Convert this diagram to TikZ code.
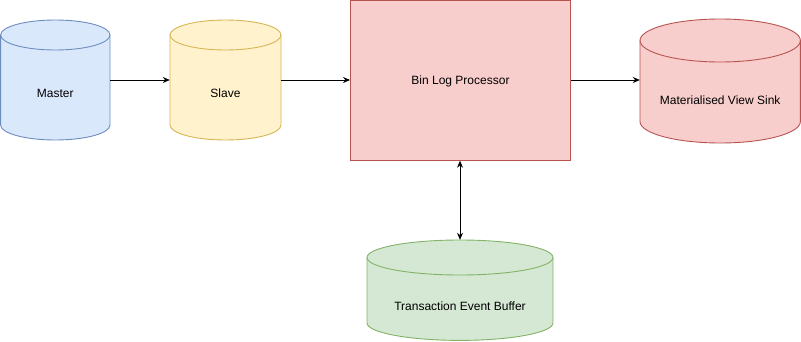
\documentclass[tikz,border=0pt]{standalone}
\usepackage{fontspec}
\setmainfont{Liberation Sans}
\usetikzlibrary{arrows.meta}
\definecolor{bluefill}{HTML}{DAE8FC}\definecolor{bluedraw}{HTML}{6C8EBF}
\definecolor{yelfill}{HTML}{FFF2CC}\definecolor{yeldraw}{HTML}{D6B656}
\definecolor{redfill}{HTML}{F8CECC}\definecolor{reddraw}{HTML}{B85450}
\definecolor{grnfill}{HTML}{D5E8D4}\definecolor{grndraw}{HTML}{82B366}
% \mycyl{name}{x1}{x2}{ytop}{ybot}{r}{fill}{draw}{text}{textY} (y measured downward, pixels)
\newcommand{\mycyl}[9]{%
  \pgfmathsetmacro{\cxA}{(#2+#3)/2}%
  \pgfmathsetmacro{\rxA}{(#3-#2)/2}%
  \filldraw[fill=#7,draw=#8,line width=0.9pt]
    (#2,341-#4-#6) -- (#2,341-#5+#6) arc[start angle=180,end angle=360,x radius=\rxA pt,y radius=#6 pt]
    -- (#3,341-#4-#6) arc[start angle=0,end angle=180,x radius=\rxA pt,y radius=#6 pt] -- cycle;
  \draw[draw=#8,line width=0.9pt] (#2,341-#4-#6) arc[start angle=180,end angle=360,x radius=\rxA pt,y radius=#6 pt];
  \node[inner sep=0pt,minimum width={(#3-#2)*1pt},minimum height={(#5-#4)*1pt}] (#1) at (\cxA,341-#4/2-#5/2) {};
  \node[lbl] (#1-t) at (\cxA,341-#9) {\csname cyltext#1\endcsname};
}
\begin{document}
\begin{tikzpicture}[x=1pt,y=1pt,
  lbl/.style={font=\fontsize{12}{14}\selectfont,inner sep=0pt},
  conn/.style={line width=0.9pt,-{Stealth[length=7pt,width=6pt]}},
  biconn/.style={line width=0.9pt,{Stealth[length=7pt,width=6pt]}-{Stealth[length=7pt,width=6pt]}}]
\useasboundingbox[fill=white] (0,0) rectangle (801,341);
\expandafter\def\csname cyltextmaster\endcsname{Master}
\expandafter\def\csname cyltextslave\endcsname{Slave}
\expandafter\def\csname cyltextmvs\endcsname{Materialised View Sink}
\expandafter\def\csname cyltextteb\endcsname{Transaction Event Buffer}
\mycyl{master}{0.6}{110}{20}{140}{15}{bluefill}{bluedraw}{93}
\mycyl{slave}{170}{281}{20}{140}{15}{yelfill}{yeldraw}{93}
\mycyl{mvs}{640}{800.4}{19}{143}{21.5}{redfill}{reddraw}{100}
\mycyl{teb}{367}{553}{240}{340.4}{17.5}{grnfill}{grndraw}{306}
\node[draw=reddraw,fill=redfill,line width=0.9pt,minimum width=220pt,minimum height=159.5pt,inner sep=0pt] (blp) at (460.5,341-80.5) {};
\node[lbl] (blp-t) at (460.5,341-81) {Bin Log Processor};
\draw[conn] (master.east |- 0,261) -- (slave.west |- 0,261);
\draw[conn] (slave.east |- 0,261) -- (blp.west |- 0,261);
\draw[conn] (blp.east |- 0,261) -- (mvs.west |- 0,261);
\draw[biconn] (blp.south -| 460,0) -- (teb.north -| 460,0);
\end{tikzpicture}
\end{document}
